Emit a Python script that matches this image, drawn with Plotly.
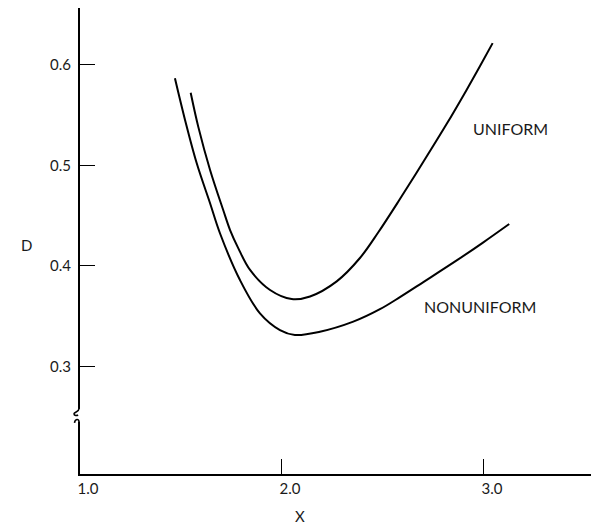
import plotly.graph_objects as go

# ---- data ----
uniform_x = [1.548, 1.586, 1.644, 1.709, 1.743, 1.784, 1.842, 1.941, 2.048, 2.139,
             2.271, 2.386, 2.477, 2.584, 2.700, 2.815, 2.914, 2.980, 3.043]
uniform_y = [0.5722, 0.5380, 0.4954, 0.4556, 0.4357, 0.4175, 0.3960, 0.3761, 0.3671, 0.3697,
             0.3847, 0.4079, 0.4335, 0.4665, 0.5035, 0.5410, 0.5750, 0.5985, 0.6215]

nonuniform_x = [1.470, 1.520, 1.578, 1.644, 1.693, 1.792, 1.891, 1.990, 2.064,
                2.188, 2.353, 2.485, 2.584, 2.700, 2.865, 2.997, 3.125]
nonuniform_y = [0.5865, 0.5451, 0.5020, 0.4623, 0.4325, 0.3860, 0.3529, 0.3363, 0.3314,
                0.3346, 0.3446, 0.3570, 0.3690, 0.3840, 0.4055, 0.4235, 0.4417]

x_ticks = [1.0, 2.0, 3.0]
x_tick_labels = ["1.0", "2.0", "3.0"]
y_ticks = [0.3, 0.4, 0.5, 0.6]
y_tick_labels = ["0.3", "0.4", "0.5", "0.6"]

x_range = [1.0, 3.53]
y_range = [0.1932, 0.6564]
break_y = 0.250

FONT = "Lato"
TXT = "#1a1a1a"

fig = go.Figure()
for xs, ys in [(uniform_x, uniform_y), (nonuniform_x, nonuniform_y)]:
    fig.add_trace(go.Scatter(x=xs, y=ys, mode="lines",
                             line=dict(color="black", width=2, shape="spline", smoothing=1.0),
                             hoverinfo="skip", showlegend=False))

fig.update_layout(
    width=591, height=527,
    margin=dict(l=80, r=0, t=8, b=53),
    paper_bgcolor="white", plot_bgcolor="white",
    font=dict(family=FONT, size=15, color=TXT),
    showlegend=False,
)
fig.update_xaxes(range=x_range, tickvals=x_ticks, ticktext=x_tick_labels,
                 showgrid=False, zeroline=False, showline=True, linecolor="black", linewidth=2,
                 ticks="inside", ticklen=15, tickwidth=1.2, tickcolor="black",
                 ticklabelshift=8, tickfont=dict(family=FONT, size=15, color=TXT))
fig.update_yaxes(range=y_range, tickvals=y_ticks, ticktext=y_tick_labels,
                 showgrid=False, zeroline=False, showline=True, linecolor="black", linewidth=2,
                 ticks="inside", ticklen=15, tickwidth=1.2, tickcolor="black",
                 ticklabelstandoff=4, tickfont=dict(family=FONT, size=15, color=TXT))

# axis break on the y axis (paper x so it is not clipped at the plot edge)
brk = dict(xref="paper", yref="y", xsizemode="pixel", ysizemode="pixel",
           xanchor=0, yanchor=break_y, layer="above")
fig.add_shape(type="rect", x0=-4, x1=2, y0=-5, y1=8,
              fillcolor="white", line=dict(width=0), **brk)
fig.add_shape(type="path", path="M -1,12 L -1,8 C -1,5 -6,5 -6,3 C -6,1 -3,1 -2,2",
              line=dict(color="black", width=1.6), **brk)
fig.add_shape(type="path", path="M -5.5,-6 C -5,-2 -1,-1.5 -1,-5 L -1,-12",
              line=dict(color="black", width=1.6), **brk)

# curve labels
fig.add_annotation(x=3.13, y=0.537, text="UNIFORM", showarrow=False,
                   font=dict(family=FONT, size=16, color=TXT))
fig.add_annotation(x=2.982, y=0.3595, text="NONUNIFORM", showarrow=False,
                   font=dict(family=FONT, size=16, color=TXT))
# axis titles
fig.add_annotation(x=2.09, xref="x", y=0, yref="paper", yshift=-42, yanchor="middle",
                   text="X", showarrow=False, font=dict(family=FONT, size=15, color=TXT))
fig.add_annotation(x=0, xref="paper", xshift=-54, xanchor="center", y=0.421, yref="y",
                   text="D", showarrow=False, font=dict(family=FONT, size=15, color=TXT))

fig.write_html("out.html")
